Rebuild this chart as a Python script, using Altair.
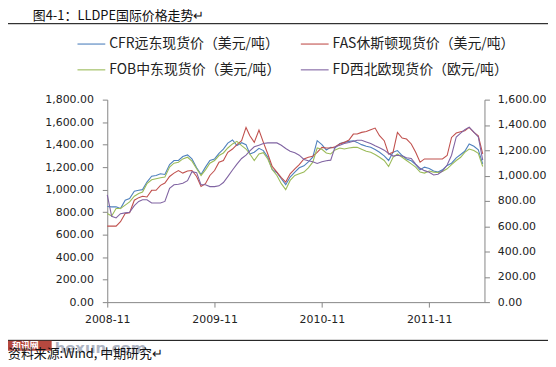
import altair as alt
import pandas as pd

# ---- data ----
S_CFR = "CFR远东现货价（美元/吨）"
S_FAS = "FAS休斯顿现货价（美元/吨）"
S_FOB = "FOB中东现货价（美元/吨）"
S_FD = "FD西北欧现货价（欧元/吨）"
series_names = [S_CFR, S_FAS, S_FOB, S_FD]
series_colors = ["#4F81BD", "#C0504D", "#9BBB59", "#8064A2"]

# semi-monthly dates (1st and 16th), 2008-11-01 .. 2012-05-01
dates = []
for m in range(43):
    yr = 2008 + (10 + m) // 12
    mo = (10 + m) % 12 + 1
    dates += [f"{yr}-{mo:02d}-01", f"{yr}-{mo:02d}-16"]
dates = dates[:85]

cfr = [850, 847, 847, 832, 906, 920, 985, 994, 1000, 1067, 1120, 1126, 1141, 1135, 1223, 1259, 1259, 1294, 1309, 1273,
       1194, 1135, 1200, 1259, 1273, 1323, 1361, 1414, 1441, 1391, 1417, 1400, 1317, 1332, 1367, 1347, 1288, 1179, 1150,
       1097, 1044, 1112, 1156, 1194, 1212, 1247, 1288, 1435, 1400, 1353, 1376, 1370, 1411, 1420, 1429, 1435, 1420, 1400,
       1385, 1376, 1356, 1332, 1300, 1259, 1332, 1347, 1303, 1273, 1256, 1223, 1176, 1200, 1188, 1165, 1156, 1176, 1215,
       1235, 1282, 1312, 1341, 1406, 1385, 1353, 1229]
fas = [676, 676, 676, 715, 788, 794, 906, 929, 941, 935, 994, 994, 1038, 1059, 1117, 1147, 1170, 1147, 1165, 1170,
       1117, 1029, 1053, 1126, 1170, 1244, 1259, 1332, 1361, 1400, 1435, 1553, 1479, 1420, 1529, 1420, 1317, 1206, 1156,
       1106, 1067, 1141, 1185, 1223, 1273, 1288, 1297, 1332, 1376, 1370, 1370, 1382, 1406, 1420, 1441, 1494, 1494, 1509,
       1517, 1532, 1547, 1479, 1435, 1317, 1332, 1509, 1459, 1450, 1406, 1332, 1244, 1273, 1273, 1273, 1273, 1273, 1303,
       1464, 1503, 1514, 1523, 1553, 1509, 1479, 1317]
fob = [788, 765, 832, 832, 862, 891, 941, 965, 979, 1053, 1088, 1097, 1106, 1112, 1200, 1235, 1244, 1273, 1288, 1253,
       1185, 1126, 1176, 1235, 1259, 1303, 1326, 1370, 1406, 1429, 1391, 1361, 1317, 1259, 1317, 1329, 1273, 1179, 1126,
       1053, 1000, 1082, 1126, 1141, 1156, 1194, 1244, 1370, 1359, 1326, 1317, 1353, 1370, 1361, 1370, 1376, 1376, 1359,
       1341, 1332, 1312, 1288, 1259, 1206, 1288, 1317, 1288, 1259, 1229, 1200, 1156, 1147, 1165, 1156, 1153, 1162, 1185,
       1223, 1259, 1288, 1332, 1361, 1347, 1323, 1206]
fd = [848, 678, 665, 699, 705, 710, 762, 796, 809, 809, 783, 783, 783, 796, 900, 927, 932, 940, 960, 1031,
      1023, 927, 927, 913, 913, 919, 945, 992, 1044, 1091, 1135, 1161, 1195, 1227, 1240, 1253, 1258, 1258, 1258,
      1240, 1214, 1193, 1180, 1161, 1127, 1117, 1109, 1096, 1109, 1117, 1122, 1227, 1240, 1253, 1261, 1271, 1279, 1279,
      1266, 1253, 1235, 1219, 1201, 1175, 1154, 1161, 1154, 1141, 1135, 1091, 1057, 1039, 1026, 1005, 1010, 1036, 1083,
      1161, 1305, 1336, 1362, 1383, 1344, 1305, 1122]

left_ticks = [0, 200, 400, 600, 800, 1000, 1200, 1400, 1600, 1800]
right_ticks = [0, 200, 400, 600, 800, 1000, 1200, 1400, 1600]

title_text = "图4-1：LLDPE国际价格走势↵"
source_text = "资料来源:Wind, 中期研究↵"

rows = []
for name, vals in [(S_CFR, cfr), (S_FAS, fas), (S_FOB, fob), (S_FD, fd)]:
    for d, v in zip(dates, vals):
        rows.append({"date": d, "value": v, "series": name})
df = pd.DataFrame(rows)

FONT_CJK = "Noto Sans CJK SC"
AX = "#868686"
color_scale = alt.Scale(domain=series_names, range=series_colors)

x_enc = alt.X(
    "date:T",
    scale=alt.Scale(type="utc",
                    domain=[alt.DateTime(year=2008, month=11, date=1, utc=True),
                            alt.DateTime(year=2012, month=5, date=7, utc=True)]),
    axis=alt.Axis(
        values=[alt.DateTime(year=y, month=11, date=1, utc=True) for y in (2008, 2009, 2010, 2011)],
        format="%Y-%m", title=None, grid=False, domainColor=AX, tickColor=AX, tickSize=5,
        labelPadding=7, labelFont="DejaVu Sans", labelFontSize=11, labelColor="#222222",
        labelFlush=False),
)

left = alt.Chart(df).transform_filter(
    alt.FieldOneOfPredicate(field="series", oneOf=[S_CFR, S_FAS, S_FOB])
).mark_line(strokeWidth=1.1).encode(
    x=x_enc,
    y=alt.Y("value:Q", scale=alt.Scale(domain=[0, 1800]),
            axis=alt.Axis(values=left_ticks, format=",.2f", title=None, grid=False,
                          domainColor=AX, tickColor=AX, tickSize=5, labelPadding=9,
                          labelFont="DejaVu Sans", labelFontSize=11, labelColor="#222222")),
    color=alt.Color("series:N", scale=color_scale, legend=None),
    detail="series:N",
)

right = alt.Chart(df).transform_filter(
    alt.datum.series == S_FD
).mark_line(strokeWidth=1.1).encode(
    x=x_enc,
    y=alt.Y("value:Q", scale=alt.Scale(domain=[0, 1600]),
            axis=alt.Axis(values=right_ticks, format=",.2f", title=None, grid=False, orient="right",
                          domainColor=AX, tickColor=AX, tickSize=5, labelPadding=8,
                          labelFont="DejaVu Sans", labelFontSize=11, labelColor="#222222")),
    color=alt.Color("series:N", scale=color_scale, legend=None),
)

# ---- custom legend (2 x 2) ----
leg_df = pd.DataFrame({"series": series_names})
leg_pos = {S_CFR: (-30, -56), S_FAS: (195, -56), S_FOB: (-30, -30), S_FD: (195, -30)}
legend_layers = []
for s in series_names:
    lx, ly = leg_pos[s]
    base = alt.Chart(leg_df).transform_filter(alt.datum.series == s)
    legend_layers.append(base.mark_rule(strokeWidth=1.1).encode(
        x=alt.value(lx), x2=alt.value(lx + 28), y=alt.value(ly),
        color=alt.Color("series:N", scale=color_scale, legend=None)))
    legend_layers.append(base.mark_text(align="left", baseline="middle", font=FONT_CJK,
                                        fontSize=14, color="#222222").encode(
        x=alt.value(lx + 32), y=alt.value(ly), text="series:N"))

one = pd.DataFrame({"t": [0]})
title = alt.Chart(one).mark_text(align="left", baseline="top", font=FONT_CJK,
                                 fontSize=13, color="#111111").encode(
    x=alt.value(-75), y=alt.value(-90), text=alt.value(title_text))
top_line = alt.Chart(one).mark_rule(color="#000000", strokeWidth=1).encode(
    x=alt.value(-100), x2=alt.value(444), y=alt.value(-76.5))
bottom_line = alt.Chart(one).mark_rule(color="#000000", strokeWidth=1).encode(
    x=alt.value(-100), x2=alt.value(444), y=alt.value(242.5))
wm_box = alt.Chart(one).mark_rect(color="#b5483f").encode(
    x=alt.value(-100), x2=alt.value(-56), y=alt.value(243), y2=alt.value(253))
wm_box_text = alt.Chart(one).mark_text(align="left", baseline="middle", font=FONT_CJK,
                                       fontSize=9, color="#ffffff", fontWeight="bold").encode(
    x=alt.value(-96), y=alt.value(248), text=alt.value("和讯网"))
wm_text = alt.Chart(one).mark_text(align="left", baseline="middle", font="DejaVu Sans",
                                   fontSize=15, color="#9aa3b5", fontWeight="bold", opacity=0.8).encode(
    x=alt.value(-53), y=alt.value(250), text=alt.value("hexun.com"))
source = alt.Chart(one).mark_text(align="left", baseline="middle", font=FONT_CJK,
                                  fontSize=13, color="#111111").encode(
    x=alt.value(-100), y=alt.value(256), text=alt.value(source_text))

chart = alt.layer(
    left, right, *legend_layers, title, top_line, bottom_line, wm_box, wm_box_text, wm_text, source
).resolve_scale(y="independent").properties(
    width=380, height=204,
    padding={"left": 100, "top": 91, "right": 64, "bottom": 60},
    autosize=alt.AutoSizeParams(type="none"),
    background="white",
).configure_view(stroke=None)

chart.save("out.html", embed_options={"renderer": "svg", "actions": False})
